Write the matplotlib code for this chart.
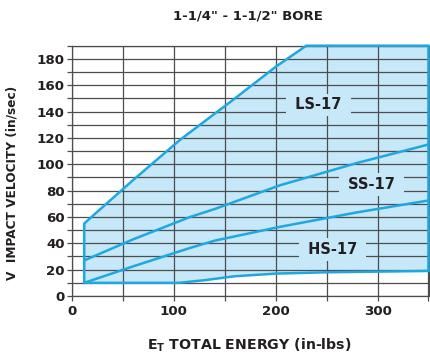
import matplotlib
matplotlib.use("Agg")
import matplotlib.pyplot as plt
from matplotlib.patches import Polygon
from matplotlib.ticker import MultipleLocator

# upper limit of the range (LS-17 top edge)
ls_energy = [12, 23.5, 60, 106, 160, 200, 230]
ls_velocity = [55, 63, 88, 118.5, 150, 174, 190]
# boundary LS-17 / SS-17
ss_energy = [12, 60, 116, 140, 204, 280, 350]
ss_velocity = [27, 43, 60, 66, 84, 101, 115]
# boundary SS-17 / HS-17
hs_energy = [12, 60, 116, 140, 204, 280, 350]
hs_velocity = [10, 22.5, 36.5, 42, 52.5, 63.5, 72.5]
# lower limit of the range
low_energy = [12, 105, 130, 160, 200, 250, 300, 350]
low_velocity = [10, 10, 12, 15, 17, 18, 18.5, 19]

max_energy = 350
max_velocity = 190

models = ["LS-17", "SS-17", "HS-17"]
model_energy = [242, 294, 256]
model_velocity = [145, 84.5, 35.5]

fill_c = "#c6e8f9"
line_c = "#1ea8e2"
grid_c = "#4d4d4d"
text_c = "#231f20"

fig = plt.figure(figsize=(4.3, 3.58), dpi=100)
ax = fig.add_axes([72 / 430, 62 / 358, 356.5 / 430, 250.3 / 358])

# outline of the whole working range
out_x = low_energy[:1] + ls_energy + [max_energy] + low_energy[::-1]
out_y = low_velocity[:1] + ls_velocity + [max_velocity] + low_velocity[::-1]
ax.add_patch(Polygon(list(zip(out_x, out_y)), closed=True, facecolor=fill_c,
                     edgecolor="none", zorder=1))
ax.plot(out_x, out_y, color=line_c, lw=1.8, zorder=3, clip_on=False,
        solid_joinstyle="miter")
ax.plot(ss_energy, ss_velocity, color=line_c, lw=1.8, zorder=3)
ax.plot(hs_energy, hs_velocity, color=line_c, lw=1.8, zorder=3)

for name, e, v in zip(models, model_energy, model_velocity):
    ax.text(e, v, " " + name + " ", ha="center", va="center", fontsize=10.5,
            weight="bold", color=text_c, zorder=4,
            bbox=dict(boxstyle="square,pad=0.27", facecolor=fill_c, edgecolor="none"))

ax.set_xlim(0, max_energy)
ax.set_ylim(0, max_velocity)
ax.xaxis.set_major_locator(MultipleLocator(100))
ax.xaxis.set_minor_locator(MultipleLocator(50))
ax.yaxis.set_major_locator(MultipleLocator(20))
ax.yaxis.set_minor_locator(MultipleLocator(10))
ax.grid(which="both", color=grid_c, lw=0.9, zorder=1.5)
ax.tick_params(which="both", direction="out", length=3.5, width=0.9, color=grid_c)
ax.tick_params(axis="y", pad=1.8, labelsize=9.6, labelcolor=text_c)
ax.tick_params(axis="x", pad=3, labelsize=9.6, labelcolor=text_c)
for lab in ax.get_xticklabels() + ax.get_yticklabels():
    lab.set_fontweight("bold")
for sp in ax.spines.values():
    sp.set_color(grid_c)
    sp.set_linewidth(0.9)
    sp.set_zorder(1.6)

fig.text(247.5 / 430, 1 - 16 / 358, "1-1/4\" - 1-1/2\" BORE", ha="center",
         va="center", fontsize=9.5, weight="bold", color=text_c)
fig.text(249 / 430, 8 / 358, r"$\mathbf{E}_\mathbf{T}$ TOTAL ENERGY (in-lbs)",
         ha="center", va="baseline", fontsize=10.2, weight="bold", color=text_c)
fig.text(12 / 430, 1 - 183 / 358, "V  IMPACT VELOCITY (in/sec)", rotation=90,
         ha="center", va="center", fontsize=8.7, weight="bold", color=text_c)

fig.savefig("out.png", dpi=100)
